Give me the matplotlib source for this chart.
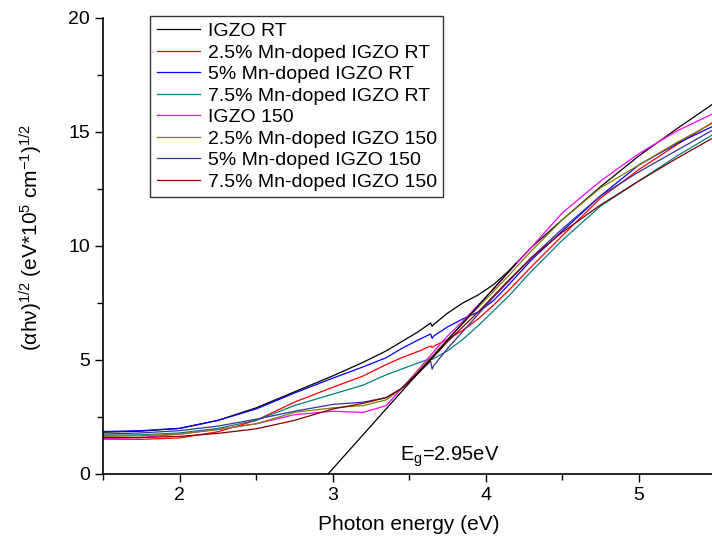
import numpy as np
import matplotlib
matplotlib.use('Agg')
import matplotlib.pyplot as plt
from matplotlib.ticker import MultipleLocator

plt.rcParams['font.family'] = ['Liberation Sans', 'DejaVu Sans']
plt.rcParams['mathtext.default'] = 'regular'

# photon energy grid (eV)
energy = [1.5, 1.75, 2.0, 2.25, 2.5, 2.75, 3.0, 3.2, 3.35, 3.45, 3.55, 3.64, 3.65, 3.66,
          3.75, 3.85, 3.95, 4.05, 4.15, 4.3, 4.5, 4.75, 5.0, 5.25, 5.5]

igzo_rt = [1.83, 1.88, 2.0, 2.35, 2.9, 3.6, 4.3, 4.9, 5.4, 5.8, 6.2, 6.62, 6.48, 6.56,
           7.05, 7.5, 7.85, 8.3, 8.9, 9.95, 11.15, 12.6, 13.95, 15.15, 16.3]
mn25_rt = [1.53, 1.52, 1.58, 1.85, 2.35, 3.15, 3.8, 4.3, 4.8, 5.1, 5.35, 5.61, 5.55, 5.6,
           5.9, 6.3, 6.8, 7.4, 8.05, 9.1, 10.45, 12.1, 13.35, 14.45, 15.5]
mn5_rt = [1.86, 1.9, 2.0, 2.35, 2.85, 3.55, 4.2, 4.7, 5.1, 5.5, 5.85, 6.14, 5.95, 6.05,
          6.45, 6.8, 7.1, 7.6, 8.3, 9.4, 10.65, 12.2, 13.55, 14.5, 15.3]
mn75_rt = [1.7, 1.72, 1.8, 2.0, 2.35, 3.0, 3.5, 3.9, 4.35, 4.6, 4.85, 5.06, 5.02, 5.06,
           5.4, 5.9, 6.5, 7.15, 7.8, 8.9, 10.25, 11.75, 12.85, 13.95, 14.95]
igzo_150 = [1.55, 1.6, 1.75, 1.95, 2.2, 2.6, 2.75, 2.7, 3.0, 3.75, 4.5, 5.2, 5.28, 5.36,
            6.05, 6.7, 7.4, 8.1, 8.85, 9.95, 11.45, 12.85, 14.05, 15.05, 15.85]
mn25_150 = [1.65, 1.68, 1.75, 1.95, 2.2, 2.7, 2.9, 3.0, 3.25, 3.75, 4.45, 5.1, 5.17, 5.24,
            5.9, 6.6, 7.3, 8.0, 8.7, 9.8, 11.15, 12.55, 13.55, 14.55, 15.45]
mn5_150 = [1.75, 1.8, 1.9, 2.1, 2.4, 2.75, 3.05, 3.15, 3.35, 3.75, 4.35, 4.95, 4.6, 4.75,
           5.5, 6.25, 7.0, 7.75, 8.45, 9.5, 10.75, 12.2, 13.25, 14.2, 15.15]
mn75_150 = [1.6, 1.6, 1.65, 1.78, 1.98, 2.35, 2.85, 3.1, 3.35, 3.75, 4.4, 5.0, 5.07, 5.14,
            5.8, 6.45, 7.1, 7.8, 8.5, 9.5, 10.6, 11.8, 12.85, 13.85, 14.8]

labels = ['IGZO RT', '2.5% Mn-doped IGZO RT', '5% Mn-doped IGZO RT', '7.5% Mn-doped IGZO RT',
          'IGZO 150', '2.5% Mn-doped IGZO 150', '5% Mn-doped IGZO 150', '7.5% Mn-doped IGZO 150']
series = [igzo_rt, mn25_rt, mn5_rt, mn75_rt, igzo_150, mn25_150, mn5_150, mn75_150]
colors = ['black', 'red', 'blue', '#008080', 'magenta', '#808000', '#333399', '#800000']

# linear fit for band gap
fit_x = [2.97, 4.2]
fit_y = [0.0, 9.25]

fig = plt.figure(figsize=(7.12, 5.47), dpi=100)
ax = fig.add_axes([0.1447, 0.1335, 0.860, 0.8336])

for y, lab, c in zip(series, labels, colors):
    ax.plot(energy, y, color=c, lw=0.9, label=lab)
ax.plot(fit_x, fit_y, color='black', lw=0.9)

ax.set_xlim(1.5, 5.5)
ax.set_ylim(0, 20)
ax.xaxis.set_major_locator(MultipleLocator(1))
ax.xaxis.set_minor_locator(MultipleLocator(0.5))
ax.yaxis.set_major_locator(MultipleLocator(5))
ax.yaxis.set_minor_locator(MultipleLocator(2.5))
ax.tick_params(which='major', direction='out', length=6, width=1, labelsize=14)
ax.tick_params(which='minor', direction='out', length=4, width=1)
ax.spines['top'].set_visible(False)
ax.spines['right'].set_visible(False)
ax.spines['left'].set_linewidth(1.2)
ax.spines['bottom'].set_linewidth(1.2)

ax.set_xlabel('Photon energy (eV)', fontsize=15, labelpad=8)
ax.set_ylabel('(αhν)$^{1/2}$ (eV*10$^5$ cm$^{-1}$)$^{1/2}$', fontsize=15)
ax.yaxis.set_label_coords(-0.095, 0.52)

ax.text(3.44, 0.6, 'E$_g$=2.95eV', fontsize=14.5)

leg = ax.legend(loc='upper left', bbox_to_anchor=(0.077, 1.005), fontsize=14,
                frameon=True, fancybox=False, handlelength=2.2, handletextpad=0.4,
                labelspacing=0.2, borderpad=0.35, borderaxespad=0)
leg.get_frame().set_edgecolor('black')
leg.get_frame().set_linewidth(1.0)

fig.savefig('out.png', dpi=100)
